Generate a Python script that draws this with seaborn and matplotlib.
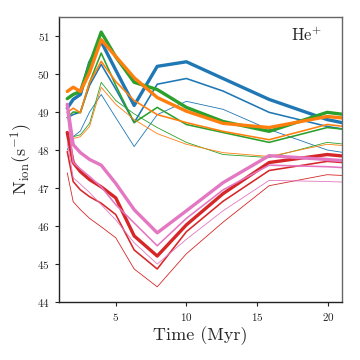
import numpy as np
import pandas as pd
import matplotlib
matplotlib.use("Agg")
import matplotlib.pyplot as plt
import seaborn as sns

# --- data (log-spaced age bins, Myr) ---
time_myr = [1.58, 2.0, 2.51, 3.16, 3.98, 5.01, 6.31, 7.94, 10.0, 12.59, 15.85, 19.95, 25.12]

blue_thick  = [49.10, 49.33, 49.46, 50.30, 50.85, 50.10, 49.17, 50.20, 50.32, 49.88, 49.33, 48.80, 48.40]
blue_mid    = [48.85, 48.93, 49.00, 49.70, 50.25, 49.60, 48.72, 49.73, 49.88, 49.55, 48.99, 48.62, 48.30]
blue_thin   = [48.00, 48.35, 48.50, 49.00, 49.46, 48.85, 48.09, 48.93, 49.28, 49.07, 48.54, 48.00, 47.70]

green_thick = [49.35, 49.46, 49.54, 50.25, 51.10, 50.45, 49.78, 49.59, 49.12, 48.75, 48.49, 48.99, 48.75]
green_mid   = [48.85, 49.00, 48.98, 49.78, 50.55, 49.70, 48.72, 49.12, 48.67, 48.46, 48.20, 48.59, 48.40]
green_thin  = [48.45, 48.35, 48.40, 48.70, 49.78, 49.30, 48.95, 48.59, 48.20, 47.88, 47.80, 48.20, 48.00]

orange_thick = [49.54, 49.65, 49.54, 50.04, 50.90, 50.46, 49.90, 49.38, 49.02, 48.70, 48.59, 48.88, 48.70]
orange_mid   = [48.98, 49.10, 48.98, 49.78, 50.33, 49.80, 49.30, 48.93, 48.72, 48.49, 48.27, 48.67, 48.45]
orange_thin  = [48.49, 48.30, 48.35, 48.62, 49.65, 49.20, 48.80, 48.43, 48.15, 47.93, 47.83, 48.15, 48.00]

red_thick = [48.46, 47.67, 47.43, 47.22, 47.03, 46.74, 45.74, 45.21, 46.03, 46.85, 47.67, 47.88, 47.70]
red_mid   = [47.96, 47.17, 46.95, 46.77, 46.60, 46.30, 45.37, 44.87, 45.85, 46.65, 47.46, 47.70, 47.55]
red_thin  = [47.40, 46.64, 46.43, 46.20, 45.98, 45.69, 44.87, 44.40, 45.27, 46.10, 47.06, 47.35, 47.25]

pink_thick = [49.20, 48.14, 47.93, 47.75, 47.60, 47.12, 46.43, 45.82, 46.40, 47.14, 47.85, 47.75, 47.60]
pink_mid   = [49.00, 47.67, 47.50, 47.30, 47.03, 46.56, 46.08, 45.48, 46.20, 46.95, 47.60, 47.56, 47.45]
pink_thin  = [48.20, 47.27, 47.10, 46.88, 46.56, 46.16, 45.56, 45.00, 45.65, 46.40, 47.20, 47.17, 47.10]

series = {
    "tab:blue":   [blue_thick, blue_mid, blue_thin],
    "tab:green":  [green_thick, green_mid, green_thin],
    "tab:orange": [orange_thick, orange_mid, orange_thin],
    "tab:red":    [red_thick, red_mid, red_thin],
    "tab:pink":   [pink_thick, pink_mid, pink_thin],
}
widths = [2.4, 1.15, 0.6]

# --- style ---
sns.set_style("ticks")
plt.rcParams["font.family"] = "serif"
plt.rcParams["font.serif"] = ["cmr10", "DejaVu Serif"]
plt.rcParams["mathtext.fontset"] = "cm"
plt.rcParams["axes.formatter.use_mathtext"] = True

fig = plt.figure(figsize=(3.6, 3.6), dpi=100)
ax = fig.add_axes([0.164, 0.161, 0.786, 0.792])

for color, lines in series.items():
    for vals, lw in zip(lines, widths):
        df = pd.DataFrame({"t": time_myr, "n": vals})
        sns.lineplot(data=df, x="t", y="n", color=color, lw=lw, ax=ax,
                     sort=False, estimator=None)

ax.set_xlim(1, 21)
ax.set_ylim(44, 51.5)
ax.set_xticks([5, 10, 15, 20])
ax.set_yticks(range(44, 52))
ax.tick_params(labelsize=8, length=3, width=0.8, colors="#222222")
for name, s in ax.spines.items():
    s.set_color("#222222" if name in ("left", "bottom") else "#666666")
    s.set_linewidth(1.0)

ax.set_xlabel("Time (Myr)", fontsize=13, labelpad=2)
ax.set_ylabel(r"$\mathrm{N_{ion}(s^{-1})}$", fontsize=13, labelpad=2)
ax.text(0.93, 0.97, r"$\mathrm{He}^{+}$", transform=ax.transAxes,
        ha="right", va="top", fontsize=12)

plt.savefig("out.png", dpi=100)
